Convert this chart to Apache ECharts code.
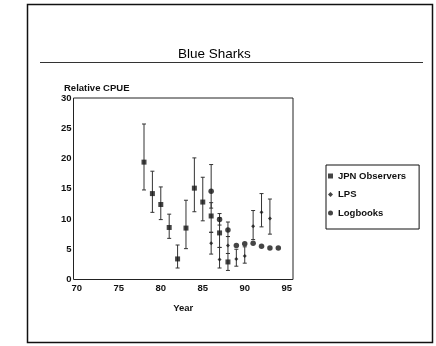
<!DOCTYPE html>
<html>
<head>
<meta charset="utf-8">
<script src="https://cdn.jsdelivr.net/npm/echarts@6/dist/echarts.min.js"></script>
<style>
html,body{margin:0;padding:0;background:#fff;}
#c{width:436px;height:346px;}
</style>
</head>
<body>
<div id="c"></div>
<script>
// ---- data ----
var xTicks = [70, 75, 80, 85, 90, 95];
var yTicks = [0, 5, 10, 15, 20, 25, 30];

var jpnYears = [78, 79, 80, 81, 82, 83, 84, 85, 86, 87, 88];
var jpnValues = [19.4, 14.2, 12.4, 8.6, 3.4, 8.5, 15.1, 12.8, 10.5, 7.7, 2.9];
var jpnLow = [14.8, 11.1, 9.9, 6.8, 1.9, 5.1, 11.2, 9.7, 7.8, 5.3, 1.5];
var jpnHigh = [25.7, 17.9, 15.3, 10.8, 5.7, 13.1, 20.1, 16.9, 12.7, 10.2, 4.3];

var lpsYears = [86, 87, 88, 89, 90, 91, 92, 93];
var lpsValues = [6.0, 3.3, 5.6, 3.4, 3.9, 8.8, 11.1, 10.1];
var lpsLow = [4.2, 1.9, 4.3, 2.2, 2.7, 6.6, 8.7, 7.5];
var lpsHigh = [7.8, 5.3, 7.1, 5.0, 5.4, 11.4, 14.2, 13.3];

var logYears = [86, 87, 88, 89, 90, 91, 92, 93, 94];
var logValues = [14.6, 9.9, 8.2, 5.6, 5.9, 6.0, 5.5, 5.2, 5.2];
var logLow = [11.8, 9.0, 7.1, null, null, null, null, null, null];
var logHigh = [19.0, 10.9, 9.5, null, null, null, null, null, null];

// ---- build ----
function pts(xs, ys) { return xs.map(function (x, i) { return [x, ys[i]]; }); }
function bars(xs, lo, hi) {
  var out = [];
  xs.forEach(function (x, i) { if (lo[i] != null && hi[i] != null) out.push([x, lo[i], hi[i]]); });
  return out;
}
var INK = '#161616';
function errSeries(name, data) {
  return {
    type: 'custom', name: name, silent: true, z: 1,
    data: data,
    encode: { x: 0, y: [1, 2] },
    renderItem: function (params, api) {
      var x = api.value(0);
      var lo = api.coord([x, api.value(1)]);
      var hi = api.coord([x, api.value(2)]);
      var w = 2;
      var st = { stroke: '#333', lineWidth: 1 };
      return {
        type: 'group',
        children: [
          { type: 'line', shape: { x1: lo[0], y1: lo[1], x2: hi[0], y2: hi[1] }, style: st },
          { type: 'line', shape: { x1: lo[0] - w, y1: lo[1], x2: lo[0] + w, y2: lo[1] }, style: st },
          { type: 'line', shape: { x1: hi[0] - w, y1: hi[1], x2: hi[0] + w, y2: hi[1] }, style: st }
        ]
      };
    }
  };
}

var FONT = 'Liberation Sans, Arial, sans-serif';
var chart = echarts.init(document.getElementById('c'), null, { renderer: 'canvas' });
chart.setOption({
  animation: false,
  backgroundColor: '#fff',
  title: [
    { text: 'Blue Sharks', left: 178, top: 47,
      textStyle: { fontFamily: FONT, fontSize: 13.5, fontWeight: 500, color: '#000' }, padding: 0 },
    { text: 'Relative CPUE', left: 64, top: 83,
      textStyle: { fontFamily: FONT, fontSize: 9.5, fontWeight: 'bold', color: '#111' }, padding: 0 }
  ],
  graphic: [
    { type: 'rect', shape: { x: 27.5, y: 4.5, width: 405, height: 338 }, style: { fill: 'none', stroke: '#111', lineWidth: 1.5 }, silent: true },
    { type: 'line', shape: { x1: 40, y1: 62.5, x2: 423, y2: 62.5 }, style: { stroke: '#333', lineWidth: 1 }, silent: true }
  ],
  legend: {
    orient: 'vertical',
    left: 326, top: 165,
    itemWidth: 5, itemHeight: 5,
    itemGap: 8.5,
    padding: [6, 13, 11, 2],
    borderColor: '#111', borderWidth: 1,
    textStyle: { fontFamily: FONT, fontSize: 9.5, fontWeight: 'bold', color: '#111' },
    data: ['JPN Observers', 'LPS', 'Logbooks']
  },
  grid: { left: 73.5, top: 98, width: 219.5, height: 181.5, show: true, borderColor: '#222', borderWidth: 1, backgroundColor: 'transparent' },
  xAxis: {
    type: 'value', min: 69.6, max: 95.75,
    name: 'Year', nameLocation: 'middle', nameGap: 24,
    nameTextStyle: { fontFamily: FONT, fontSize: 9.5, fontWeight: 'bold', color: '#111' },
    axisLine: { show: false }, axisTick: { show: false }, splitLine: { show: false },
    axisLabel: { customValues: xTicks, margin: 4, fontFamily: FONT, fontSize: 9.5, fontWeight: 'bold', color: '#111',
      showMinLabel: true, showMaxLabel: true }
  },
  yAxis: {
    type: 'value', min: 0, max: 30, interval: 5,
    axisLine: { show: false }, axisTick: { show: false }, splitLine: { show: false },
    axisLabel: { customValues: yTicks, margin: 2, fontFamily: FONT, fontSize: 9.5, fontWeight: 'bold', color: '#111' }
  },
  series: [
    errSeries('jpnErr', bars(jpnYears, jpnLow, jpnHigh)),
    errSeries('lpsErr', bars(lpsYears, lpsLow, lpsHigh)),
    errSeries('logErr', bars(logYears, logLow, logHigh)),
    { type: 'scatter', name: 'JPN Observers', symbol: 'rect', symbolSize: 5, z: 3,
      itemStyle: { color: INK }, data: pts(jpnYears, jpnValues) },
    { type: 'scatter', name: 'LPS', symbol: 'diamond', symbolSize: 4, z: 3,
      itemStyle: { color: INK }, data: pts(lpsYears, lpsValues) },
    { type: 'scatter', name: 'Logbooks', symbol: 'circle', symbolSize: 5.5, z: 4,
      itemStyle: { color: INK }, data: pts(logYears, logValues) }
  ]
});
</script>
</body>
</html>
